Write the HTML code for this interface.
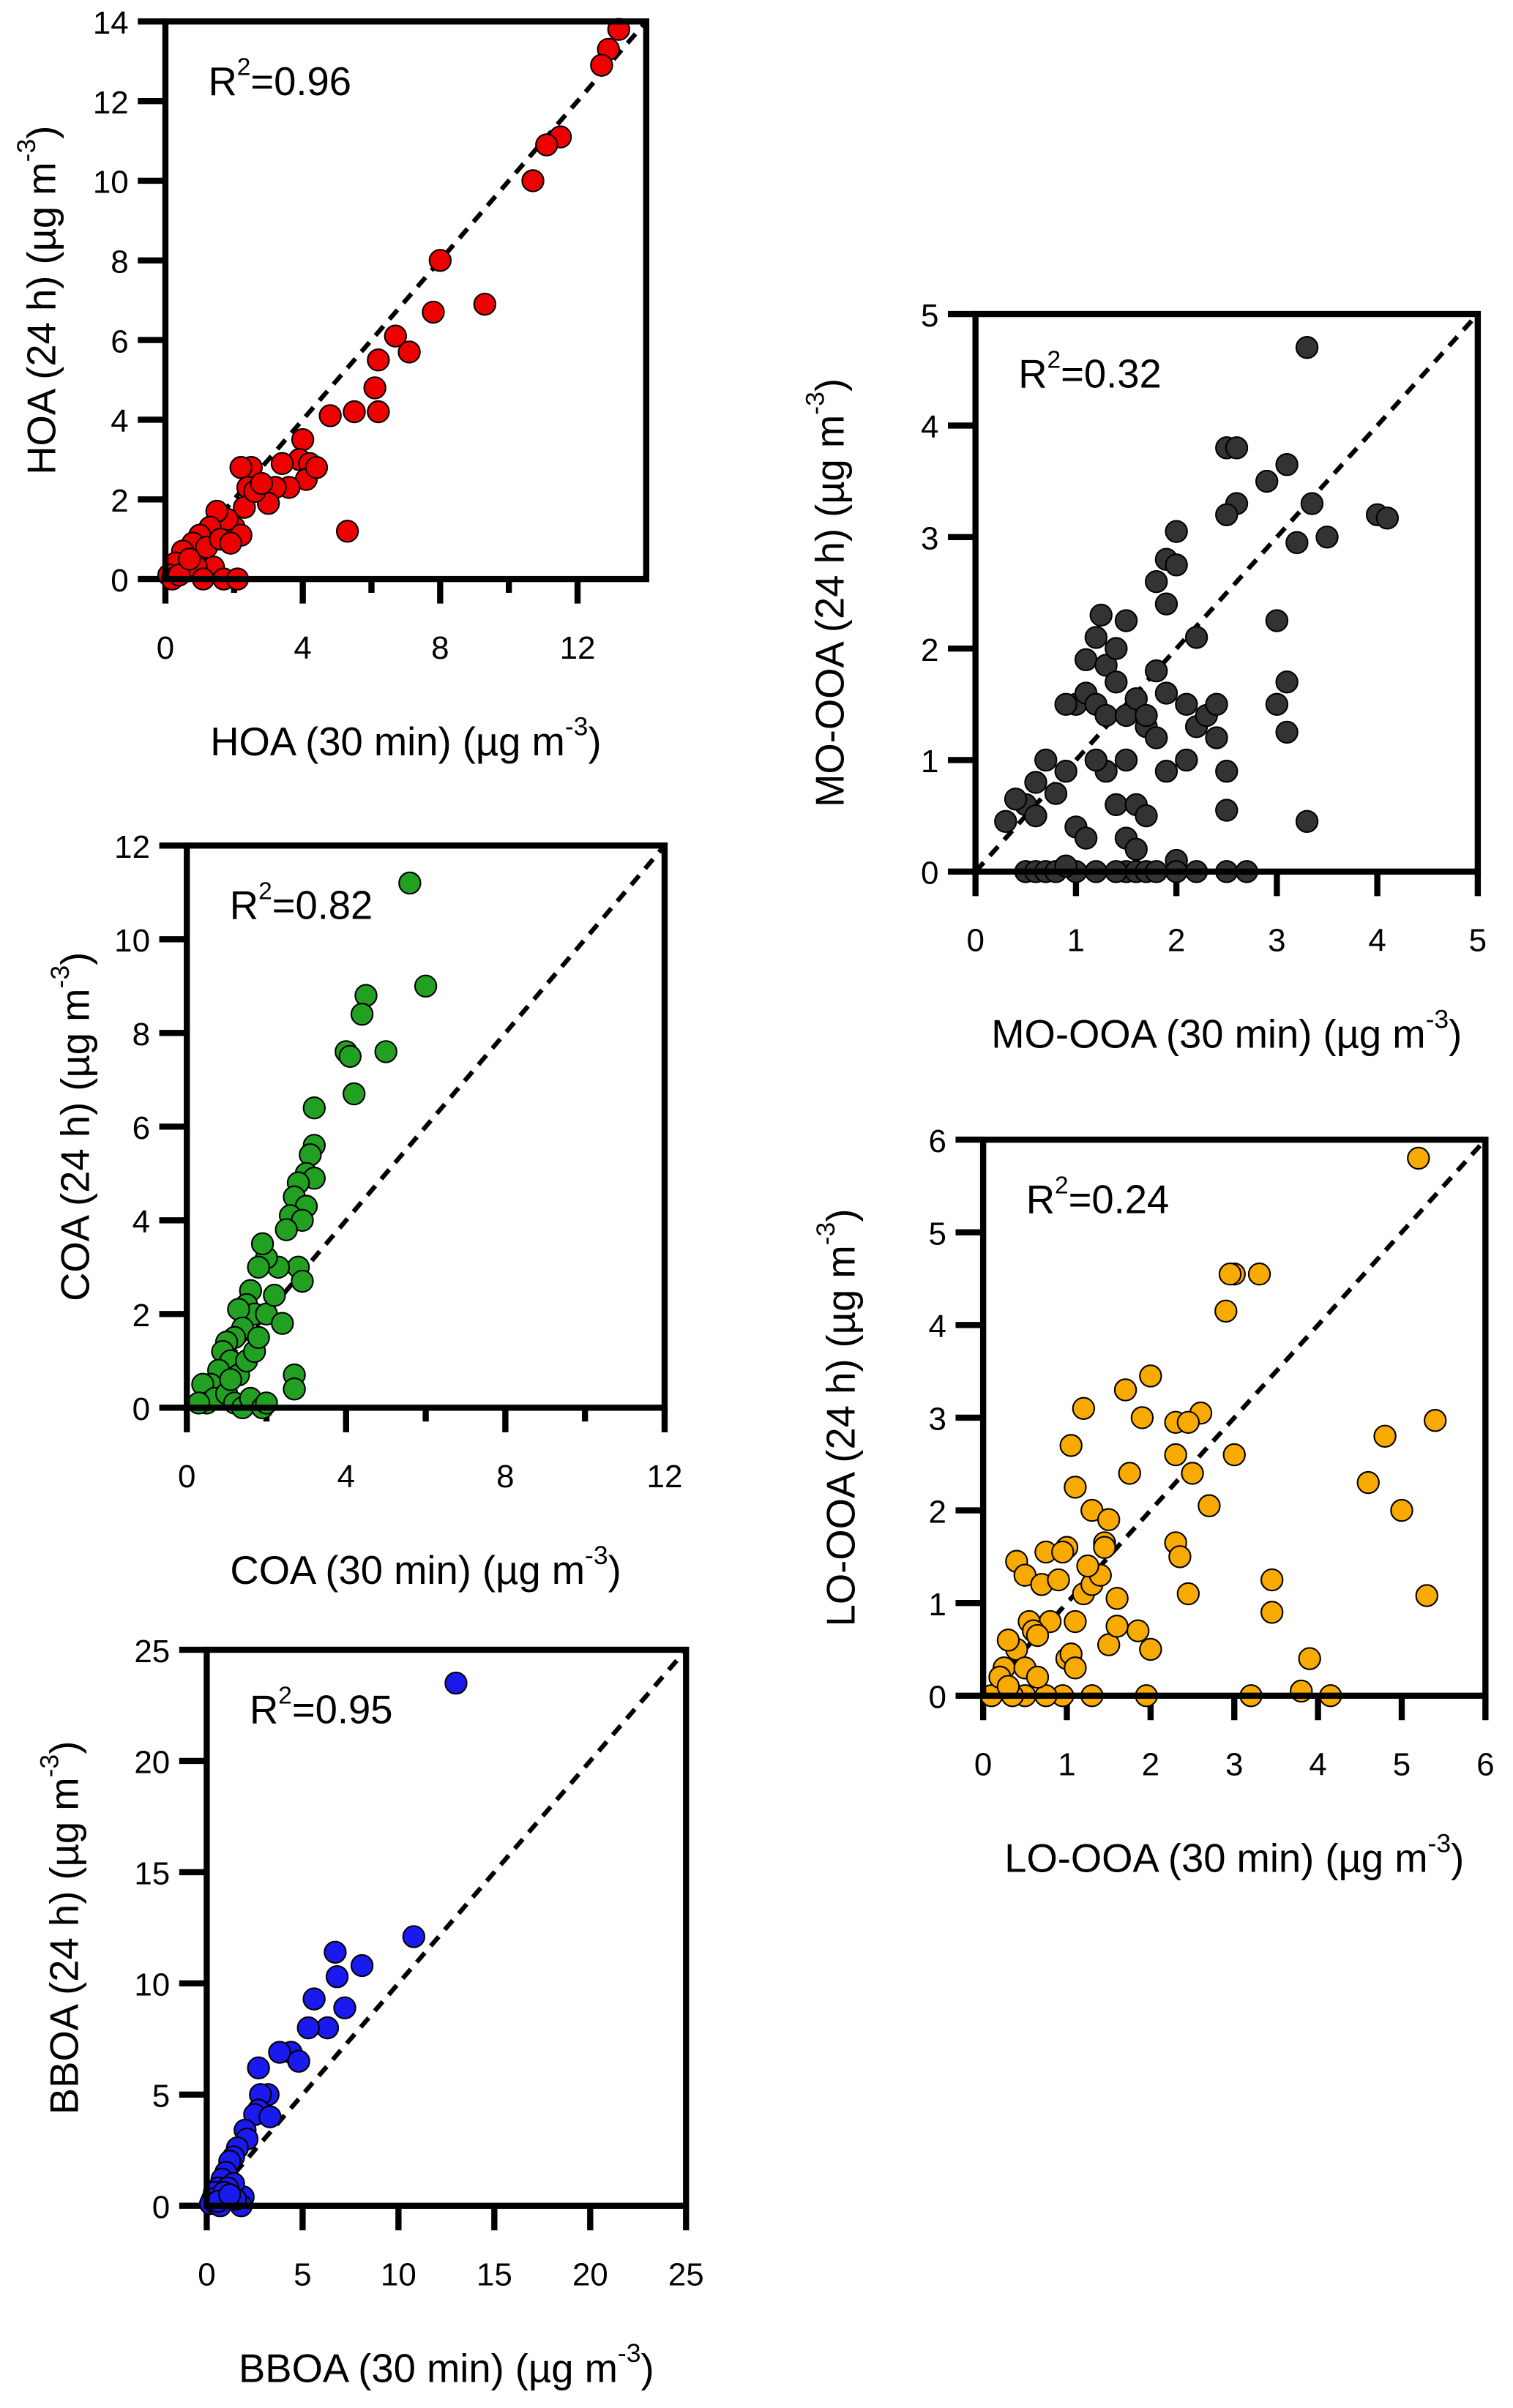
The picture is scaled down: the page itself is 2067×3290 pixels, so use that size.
<!DOCTYPE html>
<html><head><meta charset="utf-8"><style>
html,body{margin:0;padding:0;background:#fff;}
svg{display:block;font-family:"Liberation Sans",Arial,sans-serif;}
</style></head><body>
<svg id="fig" width="2067" height="3290" viewBox="0 0 988 1572" preserveAspectRatio="none" xmlns="http://www.w3.org/2000/svg"></svg>
<script>
const hoaX=[13.2,12.9,12.7,11.5,11.1,10.7,8.0,9.3,7.8,6.7,7.1,6.2,5.5,6.2,4.8,6.1,5.3,4.0,3.9,4.2,4.1,3.6,3.2,3.0,2.5,2.2,2.4,2.3,2.0,1.8,1.5,1.3,1.0,0.8,0.5,0.3,0.1,0.2,0.6,1.0,1.4,1.7,2.1,1.2,1.6,2.2,0.9,0.4,1.9,2.6,3.4,2.8,1.1,0.7,4.4];
const hoaY=[13.8,13.3,12.9,11.1,10.9,10.0,8.0,6.9,6.7,6.1,5.7,5.5,4.2,4.2,4.1,4.8,1.2,3.5,3.0,2.9,2.5,2.3,2.3,1.9,2.8,2.8,2.3,1.8,1.3,1.5,1.7,1.3,1.1,0.9,0.7,0.4,0.1,0,0.2,0.5,0.3,0,0,0.8,1.0,1.1,0.3,0.1,0.9,2.2,2.9,2.4,0,0.5,2.8];
const moX=[3.3,2.5,2.6,3.1,2.9,2.6,2.5,3.35,3.5,3.2,4.0,4.1,2.0,1.9,2.0,1.8,1.9,1.5,1.25,1.2,1.1,1.3,1.4,1.0,1.1,0.9,1.2,1.3,1.4,1.5,1.6,1.7,1.8,1.9,2.1,2.2,2.3,2.2,2.1,2.4,2.5,2.5,2.4,1.8,3.0,3.0,3.1,3.1,3.3,0.7,0.6,0.5,0.4,0.3,0.6,0.8,0.9,1.0,1.1,1.4,1.6,1.5,1.6,1.7,1.3,1.2,1.5,2.0,1.9,1.7,0.5,0.6,0.7,0.8,1.0,1.2,1.5,1.6,1.7,1.8,2.0,2.2,2.5,2.7,0.9,1.4];
const moY=[4.7,3.8,3.8,3.65,3.5,3.3,3.2,3.3,3.0,2.95,3.2,3.17,3.05,2.8,2.75,2.6,2.4,2.25,2.3,2.1,1.9,1.85,2.0,1.5,1.6,1.5,1.5,1.4,1.7,1.4,1.55,1.3,1.2,1.6,1.5,1.3,1.4,2.1,1.0,1.2,0.9,0.55,1.5,1.8,2.25,1.5,1.7,1.25,0.45,1.0,0.8,0.6,0.65,0.45,0.5,0.7,0.9,0.4,0.3,0.6,0.6,0.3,0.2,0.5,0.9,1.0,1.0,0.1,0.9,1.4,0,0,0,0,0,0,0,0,0,0,0,0,0,0,0.05,0];
const coaX=[5.6,6.0,4.5,4.4,5.0,4.0,4.1,4.2,3.2,3.2,3.1,3.0,3.2,2.8,2.7,3.0,2.6,2.9,2.5,2.8,2.3,2.0,1.9,1.8,1.6,1.5,1.7,2.0,1.3,1.4,1.2,1.0,0.9,1.1,1.3,1.5,1.7,1.8,2.2,2.4,0.8,0.6,0.4,0.5,0.7,1.0,1.2,1.4,1.6,1.9,2.0,2.7,2.7,2.9,1.1,0.3];
const coaY=[11.2,9.0,8.8,8.4,7.6,7.6,7.5,6.7,6.4,5.6,5.4,5.0,4.9,4.8,4.5,4.3,4.1,4.0,3.8,3.0,3.0,3.2,3.5,3.0,2.5,2.2,2.0,2.0,2.1,1.7,1.5,1.4,1.2,1.0,0.7,1.0,1.2,1.5,2.4,1.8,0.8,0.5,0.5,0.1,0.2,0.3,0.1,0.0,0.2,0.0,0.1,0.7,0.4,2.7,0.6,0.1];
const bbX=[13,10.8,6.7,8.1,6.8,5.6,7.2,6.3,5.3,4.4,3.8,4.8,2.7,3.2,2.8,2.7,2.5,3.3,2.0,2.1,1.6,1.4,1.2,1.0,0.8,0.6,0.4,0.3,0.2,0.5,0.7,1.9,1.8,1.4,1.1,0.9,0.6,1.5,1.2];
const bbY=[23.5,12.1,11.4,10.8,10.3,9.3,8.9,8.0,8.0,6.9,6.9,6.5,6.2,5.0,5.0,4.3,4.1,4.0,3.4,3.0,2.6,2.2,2.0,1.5,1.2,0.8,0.6,0.3,0.1,0.1,0.0,0.4,0,1.0,0.8,0.6,0.2,0.3,0.5];
const loX=[5.2,3.0,2.95,3.3,2.9,2.0,1.2,2.3,2.6,2.45,1.9,1.05,2.3,3.0,2.5,4.8,5.4,4.6,2.7,5.0,1.75,1.7,1.1,1.3,1.5,1.45,1.0,0.75,0.4,0.95,0.5,0.7,0.9,1.2,1.3,1.6,1.85,0.8,1.1,2.0,2.3,2.35,2.45,3.45,3.45,5.3,3.9,3.8,4.15,3.2,1.95,1.3,0.95,0.75,0.5,0.35,0.1,0.55,0.4,0.25,0.6,0.65,0.2,0.3,1.0,1.05,1.1,1.5,0.5,0.65,0.3,1.4,1.45,1.25,1.6];
const loY=[5.8,4.55,4.55,4.55,4.15,3.45,3.1,2.95,3.05,2.95,3.0,2.7,2.6,2.6,2.4,2.8,2.97,2.3,2.05,2.0,2.4,3.3,2.25,2.0,1.9,1.65,1.6,1.55,1.45,1.55,1.3,1.2,1.25,1.1,1.2,1.05,0.7,0.8,0.8,0.5,1.65,1.5,1.1,1.25,0.9,1.08,0.4,0.05,0.0,0,0,0,0,0,0,0,0,0.8,0.5,0.3,0.7,0.65,0.2,0.1,0.4,0.45,0.3,0.55,0.3,0.2,0.6,1.3,1.6,1.4,0.75];

const xTicksHOA=[0,4,8,12], yTicksHOA=[0,2,4,6,8,10,12,14];
const ticks5=[0,1,2,3,4,5], ticks6=[0,1,2,3,4,5,6];
const xTicksCOA=[0,4,8,12], yTicksCOA=[0,2,4,6,8,10,12];
const ticks25=[0,5,10,15,20,25];

const NS="http://www.w3.org/2000/svg";
const svg=document.getElementById('fig');
function mk(tag,attrs,parent){const e=document.createElementNS(NS,tag);for(const k in attrs)e.setAttribute(k,attrs[k]);(parent||svg).appendChild(e);return e;}

function panel(p){
  const g=mk('g',{});
  
  
  const sx=v=>p.L+(v-p.xmin)/(p.xmax-p.xmin)*(p.R-p.L);
  const sy=v=>p.B-(v-p.ymin)/(p.ymax-p.ymin)*(p.B-p.T);
  p.xt.forEach(t=>{
    const l=mk('line',{x1:sx(t),x2:sx(t),y1:p.B,y2:p.B+16,stroke:'#000','stroke-width':4},g);
    
    
    const tx=mk('text',{x:sx(t),y:p.B+52,'font-size':21,'text-anchor':'middle'},g);
    tx.textContent=t;
    
    
  });
  (p.xm||[]).forEach(t=>{mk('line',{x1:sx(t),x2:sx(t),y1:p.B,y2:p.B+9,stroke:'#000','stroke-width':4},g);});
  p.yt.forEach(t=>{
    const l=mk('line',{x1:p.L-18,x2:p.L,y1:sy(t),y2:sy(t),stroke:'#000','stroke-width':4},g);
    
    
    const tx=mk('text',{x:p.L-24,y:sy(t)+8,'font-size':21,'text-anchor':'end'},g);
    tx.textContent=t;
    
    
  });
  (p.ym||[]).forEach(t=>{mk('line',{x1:p.L-9,x2:p.L,y1:sy(t),y2:sy(t),stroke:'#000','stroke-width':4},g);});
  const dl=mk('line',{x1:sx(0),y1:sy(0),x2:sx(Math.min(p.xmax,p.ymax)),y2:sy(Math.min(p.xmax,p.ymax)),stroke:'#000','stroke-width':3,'stroke-dasharray':'8,6'},g);
  
  
  for(let i=0;i<p.x.length;i++){
    const c=mk('circle',{cx:sx(p.x[i]),cy:sy(p.y[i]),r:7,fill:p.color,stroke:'#000','stroke-width':1},g);
    
    
  }
  const fr=mk('rect',{x:p.L,y:p.T,width:p.R-p.L,height:p.B-p.T,fill:'none',stroke:'#000','stroke-width':4},g);
  
  
  const r=mk('text',{x:p.L+28,y:p.T+48,'font-size':26},g);
  r.innerHTML='R<tspan dy="-13" font-size="16">2</tspan><tspan dy="13">=' + p.r2 + '</tspan>';
  
  
  const xt=mk('text',{x:(p.L+p.R)/2,y:p.B+115,'font-size':26,'text-anchor':'middle'},g);
  xt.innerHTML=p.name+' (30 min) (µg m<tspan dy="-13" font-size="17">-3</tspan><tspan dy="13">)</tspan>';
  
  
  const cx=p.L-p.yoff, cy=(p.T+p.B)/2;
  const yt=mk('text',{x:cx,y:cy,'font-size':26,'text-anchor':'middle',transform:`rotate(-90 ${cx} ${cy})`},g);
  yt.innerHTML=p.name+' (24 h) (µg m<tspan dy="-13" font-size="17">-3</tspan><tspan dy="13">)</tspan>';
  
  
}
panel({name:'HOA',L:108,R:422,T:14,B:378,xmin:0,xmax:14,ymin:0,ymax:14,xt:xTicksHOA,xm:[2,6,10],yt:yTicksHOA,x:hoaX,y:hoaY,color:'#ee0000',r2:'0.96',yoff:72});
panel({name:'MO-OOA',L:637,R:965,T:205,B:569,xmin:0,xmax:5,ymin:0,ymax:5,xt:ticks5,yt:ticks5,x:moX,y:moY,color:'#333333',r2:'0.32',yoff:86});
panel({name:'COA',L:122,R:434,T:552,B:919,xmin:0,xmax:12,ymin:0,ymax:12,xt:xTicksCOA,xm:[2,6,10],yt:yTicksCOA,x:coaX,y:coaY,color:'#22a022',r2:'0.82',yoff:64});
panel({name:'LO-OOA',L:642,R:970,T:744,B:1107,xmin:0,xmax:6,ymin:0,ymax:6,xt:ticks6,yt:ticks6,x:loX,y:loY,color:'#f8aa00',r2:'0.24',yoff:84});
panel({name:'BBOA',L:135,R:448,T:1077,B:1440,xmin:0,xmax:25,ymin:0,ymax:25,xt:ticks25,yt:ticks25,x:bbX,y:bbY,color:'#1a1aee',r2:'0.95',yoff:84});
</script>
</body></html>
